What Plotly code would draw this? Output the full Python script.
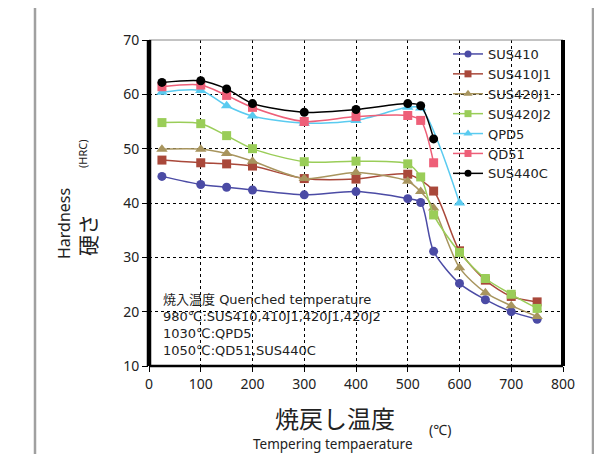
import plotly.graph_objects as go

# ---- data ----
t_full = [25, 100, 150, 200, 300, 400, 500, 525, 550, 600, 650, 700, 750]
t_410j1 = [25, 100, 150, 200, 300, 400, 500, 550, 600, 650, 700, 750]
t_qpd5 = [25, 100, 150, 200, 300, 400, 500, 525, 600]
t_high = [25, 100, 150, 200, 300, 400, 500, 525, 550]

sus410 = [44.9, 43.4, 42.9, 42.4, 41.5, 42.1, 40.8, 40.1, 31.1, 25.2, 22.2, 20.0, 18.6]
sus410j1 = [47.9, 47.4, 47.2, 46.8, 44.5, 44.4, 45.3, 42.2, 31.2, 25.8, 22.8, 21.8]
sus420j1 = [49.9, 49.9, 49.1, 47.7, 44.5, 45.6, 44.0, 42.1, 39.1, 28.1, 23.5, 21.1, 19.1]
sus420j2 = [54.8, 54.6, 52.4, 50.0, 47.6, 47.7, 47.2, 44.8, 37.8, 30.9, 26.1, 23.2, 20.6]
qpd5 = [60.4, 60.7, 57.9, 56.0, 54.7, 55.2, 57.6, 57.5, 40.0]
qd51 = [61.4, 61.7, 59.8, 57.6, 55.0, 55.9, 56.1, 55.2, 47.4]
sus440c = [62.2, 62.5, 61.0, 58.3, 56.7, 57.2, 58.3, 57.9, 51.8]

series = [
    ("SUS410", t_full, sus410, "#4B4BA5", "circle"),
    ("SUS410J1", t_410j1, sus410j1, "#A9483A", "square"),
    ("SUS420J1", t_full, sus420j1, "#A8955E", "triangle-up"),
    ("SUS420J2", t_full, sus420j2, "#9ACD58", "square"),
    ("QPD5", t_qpd5, qpd5, "#5ACBF0", "triangle-up"),
    ("QD51", t_high, qd51, "#EE5F78", "square"),
    ("SUS440C", t_high, sus440c, "#000000", "circle"),
]

x_ticks = [0, 100, 200, 300, 400, 500, 600, 700, 800]
y_ticks = [10, 20, 30, 40, 50, 60, 70]

FONT = "Noto Sans, Noto Sans CJK JP"
WIDE_FONT = "DejaVu Sans, Noto Sans CJK JP"
TXT = "#222222"

fig = go.Figure()
for name, xs, ys, color, sym in series:
    fig.add_trace(go.Scatter(
        x=xs, y=ys, name=name, mode="lines+markers", showlegend=False,
        line=dict(color=color, width=1.5, shape="spline", smoothing=0.8),
        marker=dict(color=color, symbol=sym, size=9 if sym != "triangle-up" else 10),
    ))
# legend entries with smaller markers (as in the reference legend)
for name, xs, ys, color, sym in series:
    fig.add_trace(go.Scatter(
        x=[None], y=[None], name=name, mode="lines+markers", showlegend=True,
        line=dict(color=color, width=1.5),
        marker=dict(color=color, symbol=sym, size=7 if sym != "triangle-up" else 8),
    ))

# page offset (body margin) compensation
OFF = 8
W, H = 602, 454
PL, PR, PT, PB = 149, 563, 40, 366          # plot box in target pixels
L, T = PL - OFF, PT - OFF
pw, ph = PR - PL, PB - PT
R, B = W - L - pw, H - T - ph


def px2x(px):
    return (px - PL) / pw


def py2y(py):
    return 1 - (py - PT) / ph


fig.update_layout(
    width=W, height=H,
    margin=dict(l=L, r=R, t=T, b=B),
    paper_bgcolor="white", plot_bgcolor="white",
    font=dict(family=FONT, color=TXT),
    showlegend=True,
    legend=dict(
        x=px2x(448), y=py2y(39), xanchor="left", yanchor="top",
        font=dict(size=13, family=WIDE_FONT, color=TXT),
        bgcolor="rgba(255,255,255,0)", tracegroupgap=0,
    ),
    xaxis=dict(
        range=[0, 800], tickvals=x_ticks, ticktext=[str(v) for v in x_ticks],
        showgrid=True, gridcolor="#000000", griddash="dot", gridwidth=1.2,
        zeroline=False, showline=False,
        ticks="outside", ticklen=5, tickcolor="#000000",
        tickfont=dict(size=14, family=FONT, color=TXT),
    ),
    yaxis=dict(
        range=[10, 70], tickvals=y_ticks, ticktext=[str(v) for v in y_ticks],
        showgrid=True, gridcolor="#000000", griddash="dot", gridwidth=1.2,
        zeroline=False, showline=False,
        ticks="outside", ticklen=6, tickcolor="#000000",
        tickfont=dict(size=14, family=FONT, color=TXT),
    ),
)

shapes = [
    # outer gray frame
    dict(type="rect", xref="paper", yref="paper",
         x0=px2x(35), x1=px2x(593), y0=py2y(470), y1=py2y(5),
         line=dict(color="#A0A0A0", width=2.5), layer="below"),
    # plot frame
    dict(type="line", xref="paper", yref="paper", x0=0, x1=1, y0=1, y1=1,
         line=dict(color="#888888", width=1)),
    dict(type="line", xref="paper", yref="paper", x0=0, x1=1, y0=0, y1=0,
         line=dict(color="#000000", width=2.5)),
    dict(type="line", xref="paper", yref="paper", x0=0, x1=0, y0=0, y1=1,
         line=dict(color="#000000", width=4.5)),
    dict(type="line", xref="paper", yref="paper", x0=1, x1=1, y0=0, y1=1,
         line=dict(color="#000000", width=4)),
]
fig.update_layout(shapes=shapes)

note_text = "<br>".join([
    "焼入温度 Quenched temperature",
    "980℃:SUS410,410J1,420J1,420J2",
    "1030℃:QPD5",
    "1050℃:QD51,SUS440C",
])

ann = [
    dict(text=note_text, x=px2x(161), y=py2y(290), xanchor="left", yanchor="top",
         align="left", font=dict(size=13, family=WIDE_FONT, color=TXT)),
    dict(text="Hardness", x=px2x(64), y=py2y(224), textangle=-90,
         font=dict(size=16, family=FONT, color=TXT)),
    dict(text="硬さ", x=px2x(88), y=py2y(235), textangle=-90,
         font=dict(size=21, family=FONT, color=TXT)),
    dict(text="(HRC)", x=px2x(82), y=py2y(154), textangle=-90,
         font=dict(size=11, family=FONT, color=TXT)),
    dict(text="焼戻し温度", x=px2x(335), y=py2y(418),
         font=dict(size=24, family=FONT, color=TXT)),
    dict(text="Tempering tempaerature", x=px2x(333), y=py2y(444),
         font=dict(size=13.5, family=FONT, color=TXT)),
    dict(text="(℃)", x=px2x(440), y=py2y(429),
         font=dict(size=14, family=FONT, color=TXT)),
]
for a in ann:
    a.setdefault("xref", "paper")
    a.setdefault("yref", "paper")
    a.setdefault("showarrow", False)
    a.setdefault("xanchor", "center")
    a.setdefault("yanchor", "middle")
    fig.add_annotation(**a)

fig.write_html("out.html")
